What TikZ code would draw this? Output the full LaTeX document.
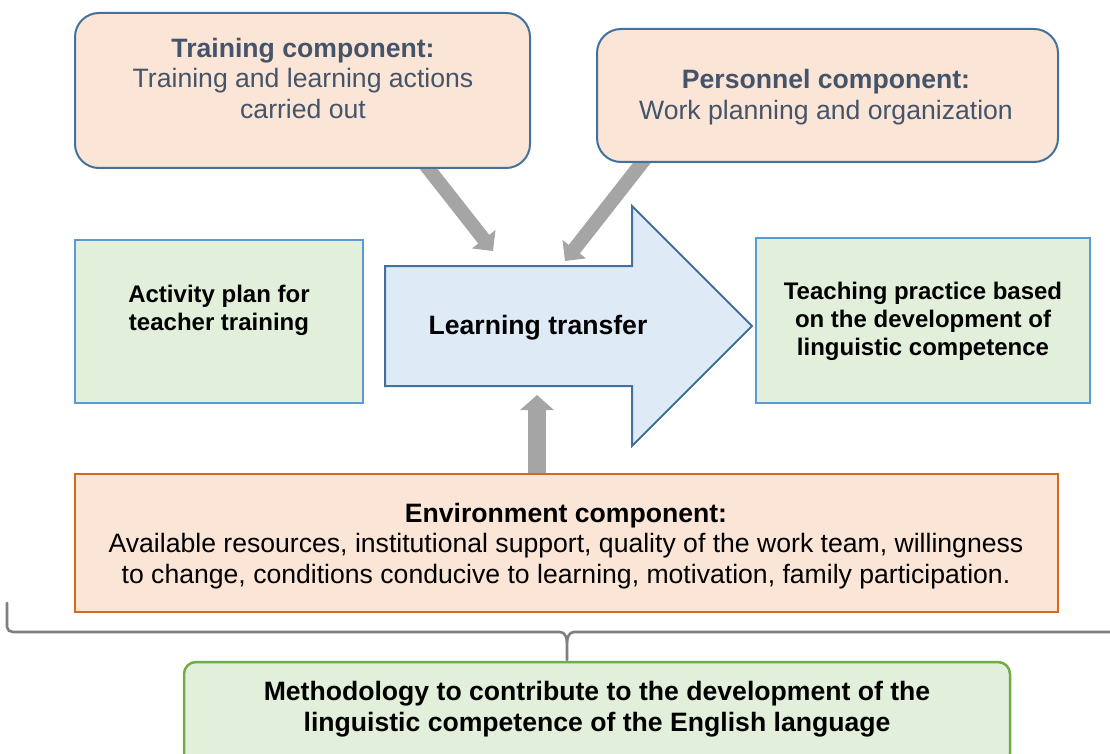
\documentclass[tikz,border=0pt]{standalone}
\usepackage{fontspec}
\setmainfont{Liberation Sans}
\usetikzlibrary{arrows.meta}
\definecolor{peach}{HTML}{FBE5D6}
\definecolor{topline}{HTML}{41719C}
\definecolor{lgreen}{HTML}{E2EFDA}
\definecolor{lblue}{HTML}{5B9BD5}
\definecolor{arrowfill}{HTML}{DEEBF7}
\definecolor{envline}{HTML}{D2691E}
\definecolor{slatetext}{HTML}{44546A}
\definecolor{grayarrow}{HTML}{A5A5A5}
\definecolor{bracegray}{HTML}{7F7F7F}
\definecolor{methline}{HTML}{70AD47}
\tikzset{
  topbox/.style={draw=topline, line width=2pt, fill=peach, rounded corners=24pt, inner sep=0pt},
  greenbox/.style={draw=lblue, line width=1.8pt, fill=lgreen, inner sep=0pt},
  envbox/.style={draw=envline, line width=1.2pt, fill=peach, inner sep=0pt},
  methbox/.style={draw=methline, line width=2.5pt, fill=lgreen, rounded corners=12pt, inner sep=0pt},
  bigtxt/.style={align=center, inner sep=0pt, font=\fontsize{26.6}{30.5}\selectfont},
  midtxt/.style={align=center, inner sep=0pt, font=\fontsize{24}{28}\selectfont\bfseries},
  grayconn/.style={draw=grayarrow, line width=14pt, -{Triangle[length=15pt,width=29pt]}},
  upconn/.style={draw=grayarrow, line width=18pt, -{Triangle[length=15pt,width=33pt]}},
  bracestyle/.style={draw=bracegray, line width=2.6pt}
}
\begin{document}
\begin{tikzpicture}[x=1pt,y=-1pt]
\useasboundingbox (0,0) rectangle (1110,754);
\clip (0,0) rectangle (1110,754);

% connectors under boxes
\coordinate (a1s) at (420,158);
\coordinate (a1e) at (493,251);
\coordinate (a2s) at (652,150);
\coordinate (a2e) at (565,261);
\coordinate (a3s) at (537,474);
\coordinate (a3e) at (537,395);
\draw[grayconn] (a1s) -- (a1e);
\draw[grayconn] (a2s) -- (a2e);
\draw[upconn] (a3s) -- (a3e);

% top boxes
\node[topbox, minimum width=455pt, minimum height=155pt] (train) at (302.5,90.5) {};
\node[bigtxt, text=slatetext] (traintxt) at (303,78) {\textbf{Training component:}\\Training and learning actions\\carried out};
\node[topbox, minimum width=461pt, minimum height=133pt] (pers) at (827.5,95.5) {};
\node[bigtxt, text=slatetext] (perstxt) at (826,97) {\textbf{Personnel component:}\\Work planning and organization};

% side boxes
\node[greenbox, minimum width=288pt, minimum height=163pt] (act) at (219,321.5) {};
\node[midtxt] (acttxt) at (219,310) {Activity plan for\\teacher training};
\node[greenbox, minimum width=334pt, minimum height=165pt] (teach) at (923,320.5) {};
\node[midtxt] (teachtxt) at (923,321) {Teaching practice based\\on the development of\\linguistic competence};

% big arrow
\draw[draw=topline, line width=2pt, fill=arrowfill, line join=miter]
  (385,266) -- (632,266) -- (632,206) -- (752,326) -- (632,446) -- (632,386) -- (385,386) -- cycle;
\node[bigtxt, font=\fontsize{26.6}{30.5}\selectfont\bfseries] (lt) at (538,328) {Learning transfer};

% environment box
\node[envbox, minimum width=983pt, minimum height=138pt] (env) at (566.5,543) {};
\node[bigtxt] (envtxt) at (566,546) {\textbf{Environment component:}\\Available resources, institutional support, quality of the work team, willingness\\to change, conditions conducive to learning, motivation, family participation.};

% brace
\coordinate (bl) at (7,603);
\coordinate (br) at (1112,632);
\coordinate (btip) at (567,660);
\draw[bracestyle, line cap=round]
  (bl) -- (7,627) to[out=-90,in=180] (13,632) -- (560,632) to[out=0,in=90] (567,643) -- (btip);
\draw[bracestyle]
  (567,643) to[out=90,in=180] (574,632) -- (br);

% methodology box
\node[methbox, minimum width=826pt, minimum height=104pt] (meth) at (597,714) {};
\node[bigtxt, font=\fontsize{26.6}{31}\selectfont\bfseries] (methtxt) at (597,709) {Methodology to contribute to the development of the\\linguistic competence of the English language};
\end{tikzpicture}
\end{document}
